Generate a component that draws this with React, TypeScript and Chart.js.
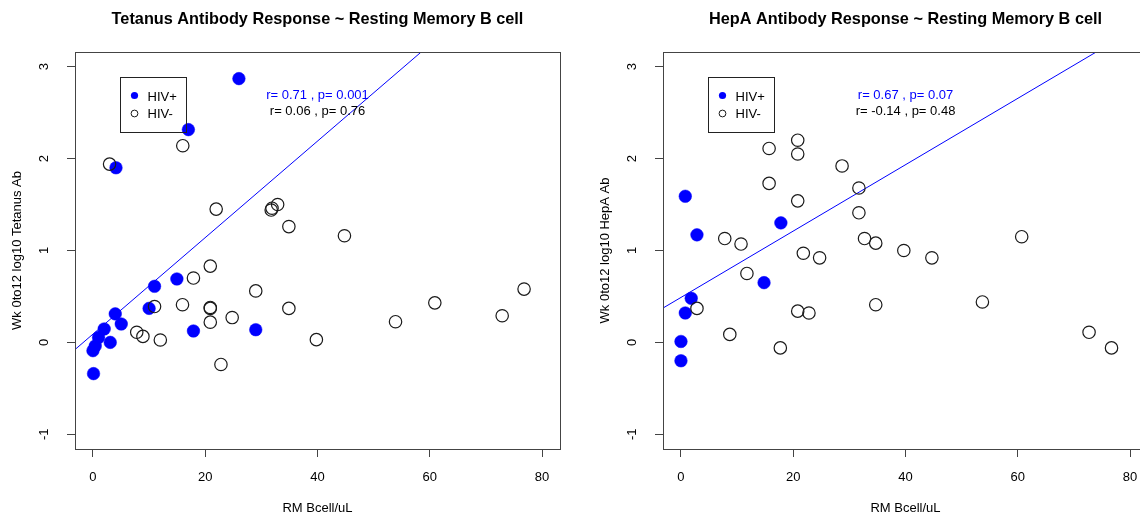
import React, { useEffect, useRef } from "react";
import { Chart, registerables } from "chart.js";

Chart.register(...registerables);

const FONT = '"Liberation Sans", Arial, Helvetica, sans-serif';

// axis limits (R adds 4% on each side) and tick labels
const xLimits = [0, 80];
const yLimits = [-1, 3];
const xTicks = [0, 20, 40, 60, 80];
const yTicks = [-1, 0, 1, 2, 3];

const legendLabels = ["HIV+", "HIV-"];

// ---- Tetanus panel ----
const tetanusTitle = "Tetanus Antibody Response ~ Resting Memory B cell";
const tetanusYLabel = "Wk 0to12 log10 Tetanus Ab";
const tetanusPosX = [26.0, 17.0, 4.1, 14.95, 10.97, 3.97, 10.0, 5.04, 2.0, 1.0, 3.08, 0.4, 0.0, 0.1, 17.9, 29.0];
const tetanusPosY = [2.87, 2.315, 1.9, 0.69, 0.61, 0.31, 0.37, 0.2, 0.146, 0.054, 0.0, -0.04, -0.09, -0.34, 0.124, 0.138];
const tetanusNegX = [2.96, 16.0, 21.95, 31.9, 31.75, 32.9, 34.9, 44.8, 20.9, 17.9, 29.0, 10.97, 15.95, 20.9, 20.9, 34.9, 20.9, 24.8, 7.8, 8.9, 12.0, 22.8, 39.8, 53.9, 60.9, 72.9, 76.8];
const tetanusNegY = [1.94, 2.14, 1.45, 1.46, 1.44, 1.5, 1.26, 1.16, 0.83, 0.7, 0.56, 0.39, 0.41, 0.38, 0.37, 0.37, 0.22, 0.27, 0.11, 0.065, 0.026, -0.24, 0.03, 0.225, 0.43, 0.29, 0.58];
const tetanusFitPos = [0.09, 0.0525]; // intercept, slope
const tetanusStats = ["r= 0.71 , p= 0.001", "r= 0.06 , p= 0.76"];

// ---- HepA panel ----
const hepaTitle = "HepA Antibody Response ~ Resting Memory B cell";
const hepaYLabel = "Wk 0to12 log10 HepA Ab";
const hepaPosX = [0.77, 2.85, 17.8, 14.8, 1.83, 0.77, 0.0, 0.0];
const hepaPosY = [1.59, 1.17, 1.3, 0.65, 0.48, 0.32, 0.01, -0.2];
const hepaNegX = [15.7, 20.8, 20.8, 28.7, 15.7, 31.7, 20.8, 31.7, 7.8, 10.7, 32.7, 34.7, 39.7, 44.7, 21.8, 24.7, 11.75, 2.85, 20.8, 22.8, 34.7, 8.7, 17.7, 60.7, 53.7, 72.7, 76.7];
const hepaNegY = [2.11, 2.2, 2.05, 1.92, 1.73, 1.68, 1.54, 1.41, 1.13, 1.07, 1.13, 1.08, 1.0, 0.92, 0.97, 0.92, 0.75, 0.37, 0.34, 0.32, 0.41, 0.087, -0.06, 1.15, 0.44, 0.11, -0.06];
const hepaFitPos = [0.489, 0.0361];
const hepaStats = ["r= 0.67 , p= 0.07", "r= -0.14 , p= 0.48"];

// annotation anchors in data units
const statX = 40;
const statY = [2.69, 2.51];
const legendAnchor = [4.9, 2.89];

const BLUE = "#0000FF";
const INK = "#1a1a1a";
const FRAME = "#444444";

const ext = (lim: number[]) => {
  const d = (lim[1] - lim[0]) * 0.04;
  return [lim[0] - d, lim[1] + d];
};

const rDecor = {
  id: "rDecor",
  afterDatasetsDraw(chart: any, _args: any, opts: any) {
    const { ctx, chartArea: a, scales } = chart;
    const xs = scales.x;
    const ys = scales.y;
    ctx.save();
    // box
    ctx.strokeStyle = FRAME;
    ctx.lineWidth = 1;
    ctx.strokeRect(Math.round(a.left) + 0.5, Math.round(a.top) + 0.5, Math.round(a.right - a.left), Math.round(a.bottom - a.top));
    // stats text
    ctx.font = `13px ${FONT}`;
    ctx.textAlign = "center";
    ctx.textBaseline = "middle";
    ctx.fillStyle = BLUE;
    ctx.fillText(opts.stats[0], xs.getPixelForValue(statX), ys.getPixelForValue(statY[0]));
    ctx.fillStyle = "#000";
    ctx.fillText(opts.stats[1], xs.getPixelForValue(statX), ys.getPixelForValue(statY[1]));
    // legend
    const lx = Math.round(xs.getPixelForValue(legendAnchor[0])) + 0.5;
    const ly = Math.round(ys.getPixelForValue(legendAnchor[1])) + 0.5;
    ctx.strokeStyle = "#222";
    ctx.lineWidth = 1;
    ctx.strokeRect(lx, ly, 66, 55);
    ctx.fillStyle = BLUE;
    ctx.beginPath();
    ctx.arc(lx + 14, ly + 18, 3.6, 0, Math.PI * 2);
    ctx.fill();
    ctx.strokeStyle = INK;
    ctx.beginPath();
    ctx.arc(lx + 14, ly + 36, 3.4, 0, Math.PI * 2);
    ctx.stroke();
    ctx.fillStyle = "#000";
    ctx.textAlign = "left";
    ctx.fillText(legendLabels[0], lx + 27, ly + 19.5);
    ctx.fillText(legendLabels[1], lx + 27, ly + 37);
    ctx.restore();
  },
};

type PanelProps = {
  left: number;
  title: string;
  yLabel: string;
  posX: number[];
  posY: number[];
  negX: number[];
  negY: number[];
  fit: number[];
  stats: string[];
};

const W = 588;
const H = 513;

function Panel(p: PanelProps) {
  const ref = useRef<HTMLCanvasElement | null>(null);
  useEffect(() => {
    if (!ref.current) return;
    const [xMin, xMax] = ext(xLimits);
    const [yMin, yMax] = ext(yLimits);
    const fitLine = [xMin, xMax].map((x) => ({ x, y: p.fit[0] + p.fit[1] * x }));
    const chart = new Chart(ref.current, {
      type: "scatter",
      data: {
        datasets: [
          {
            label: legendLabels[1],
            data: p.negX.map((x, i) => ({ x, y: p.negY[i] })),
            pointStyle: "circle",
            pointRadius: 6.2,
            pointBackgroundColor: "rgba(0,0,0,0)",
            pointBorderColor: INK,
            pointBorderWidth: 1.2,
            order: 0,
          },
          {
            label: legendLabels[0],
            data: p.posX.map((x, i) => ({ x, y: p.posY[i] })),
            pointStyle: "circle",
            pointRadius: 6.3,
            pointBackgroundColor: BLUE,
            pointBorderColor: BLUE,
            pointBorderWidth: 0.5,
            order: 1,
          },
          {
            type: "line",
            label: "fit",
            data: fitLine,
            showLine: true,
            borderColor: BLUE,
            borderWidth: 1,
            pointRadius: 0,
            fill: false,
            clip: 0,
            order: 2,
          } as any,
        ],
      },
      options: {
        animation: false,
        responsive: false,
        devicePixelRatio: 1,
        events: [],
        layout: { padding: { left: 0, right: 28, top: 0, bottom: 0 } },
        font: { family: FONT },
        plugins: {
          legend: { display: false },
          tooltip: { enabled: false },
          title: {
            display: true,
            fullSize: false,
            text: p.title,
            color: "#000",
            font: { family: FONT, size: 16.3, weight: "bold", lineHeight: 1.2 },
            padding: { top: 10, bottom: 22.4 },
          },
          rDecor: { stats: p.stats },
        } as any,
        scales: {
          x: {
            type: "linear",
            min: xMin,
            max: xMax,
            afterBuildTicks: (s: any) => {
              s.ticks = xTicks.map((v) => ({ value: v }));
            },
            afterFit: (s: any) => {
              s.height = 64;
            },
            border: { display: false },
            grid: { display: true, drawOnChartArea: false, drawTicks: true, tickLength: 8, color: FRAME, lineWidth: 1 },
            ticks: {
              color: "#000",
              font: { family: FONT, size: 13 },
              padding: 12.5,
              maxRotation: 0,
              minRotation: 0,
              autoSkip: false,
              callback: (v: any) => String(v),
            },
            title: {
              display: true,
              text: "RM Bcell/uL",
              color: "#000",
              font: { family: FONT, size: 13, lineHeight: 1 },
              padding: { top: 0, bottom: -1.5 },
            },
          },
          y: {
            type: "linear",
            min: yMin,
            max: yMax,
            afterBuildTicks: (s: any) => {
              s.ticks = yTicks.map((v) => ({ value: v }));
            },
            afterFit: (s: any) => {
              s.width = 75;
            },
            border: { display: false },
            grid: { display: true, drawOnChartArea: false, drawTicks: true, tickLength: 8, color: FRAME, lineWidth: 1 },
            ticks: {
              color: "#000",
              font: { family: FONT, size: 13 },
              padding: 16.5,
              minRotation: 90,
              maxRotation: 90,
              crossAlign: "center",
              autoSkip: false,
              callback: (v: any) => String(v),
            },
            title: {
              display: true,
              text: p.yLabel,
              color: "#000",
              font: { family: FONT, size: 13, lineHeight: 1 },
              padding: { top: 10.5, bottom: 0 },
            },
          },
        },
      } as any,
      plugins: [rDecor],
    });
    return () => chart.destroy();
  }, []);
  return (
    <div style={{ position: "absolute", left: p.left, top: 0, width: W, height: H }}>
      <canvas ref={ref} width={W} height={H} style={{ width: W, height: H, display: "block" }} />
    </div>
  );
}

export default function App() {
  return (
    <div
      style={{
        position: "fixed",
        left: 0,
        top: 0,
        width: 1140,
        height: 513,
        overflow: "hidden",
        background: "#fff",
      }}
    >
      <Panel
        left={0}
        title={tetanusTitle}
        yLabel={tetanusYLabel}
        posX={tetanusPosX}
        posY={tetanusPosY}
        negX={tetanusNegX}
        negY={tetanusNegY}
        fit={tetanusFitPos}
        stats={tetanusStats}
      />
      <Panel
        left={588}
        title={hepaTitle}
        yLabel={hepaYLabel}
        posX={hepaPosX}
        posY={hepaPosY}
        negX={hepaNegX}
        negY={hepaNegY}
        fit={hepaFitPos}
        stats={hepaStats}
      />
    </div>
  );
}
